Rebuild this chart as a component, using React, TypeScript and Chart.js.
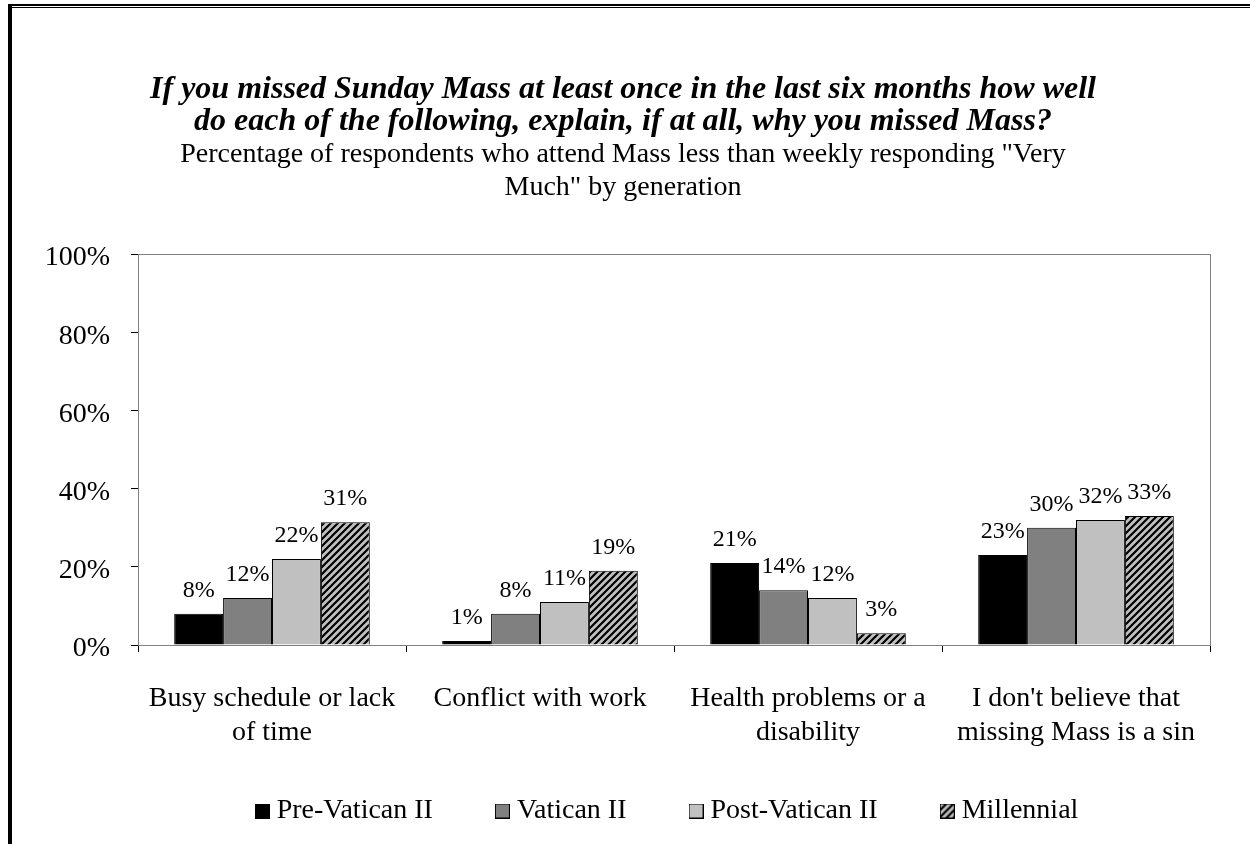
import React, { useEffect, useRef } from "react";
import { Chart, registerables } from "chart.js";
Chart.register(...registerables);

const categories = [
  ["Busy schedule or lack", "of time"],
  ["Conflict with work"],
  ["Health problems or a", "disability"],
  ["I don't believe that", "missing Mass is a sin"],
];
const seriesNames = ["Pre-Vatican II", "Vatican II", "Post-Vatican II", "Millennial"];
const preVaticanII = [8, 1, 21, 23];
const vaticanII = [12, 8, 14, 30];
const postVaticanII = [22, 11, 12, 32];
const millennial = [31.4, 19, 3, 33];
const yTickValues = [0, 20, 40, 60, 80, 100];
const titleLines = [
  "If you missed Sunday Mass at least once in the last six months how well",
  "do each of the following, explain, if at all, why you missed Mass?",
];
const subtitleLines = [
  "Percentage of respondents who attend Mass less than weekly responding \"Very",
  "Much\" by generation",
];

const FONT = "'Liberation Serif', 'Times New Roman', serif";

function makeHatch(): CanvasPattern | string {
  const c = document.createElement("canvas");
  const s = 7;
  c.width = s;
  c.height = s;
  const g = c.getContext("2d");
  if (!g) return "#c0c0c0";
  g.fillStyle = "#c0c0c0";
  g.fillRect(0, 0, s, s);
  g.strokeStyle = "#000";
  g.lineWidth = 2.2;
  g.beginPath();
  g.moveTo(-1, s + 1);
  g.lineTo(s + 1, -1);
  g.moveTo(-1, 1);
  g.lineTo(1, -1);
  g.moveTo(s - 1, s + 1);
  g.lineTo(s + 1, s - 1);
  g.stroke();
  const p = g.createPattern(c, "repeat");
  return p || "#c0c0c0";
}

function makeSwatch(fill: any): HTMLCanvasElement {
  const c = document.createElement("canvas");
  c.width = 15;
  c.height = 15;
  const g = c.getContext("2d");
  if (g) {
    g.fillStyle = fill;
    g.fillRect(0, 0, 15, 15);
    g.strokeStyle = "#000";
    g.lineWidth = 1;
    g.strokeRect(0.5, 0.5, 14, 14);
  }
  return c;
}

export default function App() {
  const ref = useRef<HTMLCanvasElement | null>(null);
  useEffect(() => {
    if (!ref.current) return;
    const hatch = makeHatch();
    const seriesValues = [preVaticanII, vaticanII, postVaticanII, millennial];
    const fills: any[] = ["#000000", "#808080", "#c0c0c0", hatch];
    const swatches = fills.map((f) => makeSwatch(f));

    const dataLabels = {
      id: "dataLabels",
      afterDatasetsDraw(chart: any) {
        const ctx = chart.ctx;
        ctx.save();
        ctx.font = `24px ${FONT}`;
        ctx.fillStyle = "#000";
        ctx.textAlign = "center";
        ctx.textBaseline = "alphabetic";
        chart.data.datasets.forEach((ds: any, i: number) => {
          const meta = chart.getDatasetMeta(i);
          meta.data.forEach((el: any, j: number) => {
            ctx.fillText(Math.round(ds.data[j]) + "%", el.x, el.y - 17);
          });
        });
        ctx.restore();
      },
    };
    const plotBox = {
      id: "plotBox",
      beforeDatasetsDraw(chart: any) {
        const a = chart.chartArea;
        const ctx = chart.ctx;
        ctx.save();
        ctx.strokeStyle = "#808080";
        ctx.lineWidth = 1;
        ctx.strokeRect(Math.round(a.left) + 0.5, Math.round(a.top) + 0.5, Math.round(a.right - a.left), Math.round(a.bottom - a.top));
        ctx.restore();
      },
    };
    const legendPlace = {
      id: "legendPlace",
      afterLayout(chart: any) {
        const lg = chart.legend;
        if (!lg) return;
        const dx = 670 - (lg.left + lg.right) / 2;
        lg.left += dx;
        lg.right += dx;
        const h = lg.bottom - lg.top;
        lg.top = 728;
        lg.bottom = 728 + h;
      },
    };

    const defaultGen = (Chart as any).defaults.plugins.legend.labels.generateLabels;

    const chart = new Chart(ref.current, {
      type: "bar",
      data: {
        labels: categories as any,
        datasets: seriesNames.map((name, i) => ({
          label: name,
          data: seriesValues[i],
          backgroundColor: fills[i],
          borderColor: "#000",
          borderWidth: 1,
          barPercentage: 1,
          categoryPercentage: 0.73,
        })),
      },
      options: {
        responsive: false,
        animation: false,
        devicePixelRatio: 1,
        layout: { padding: { left: 36, right: 40, top: 0, bottom: -13 } },
        plugins: {
          title: {
            display: true,
            text: titleLines,
            color: "#000",
            font: { family: FONT, size: 32, style: "italic", weight: "bold", lineHeight: 1 },
            padding: { top: 74, bottom: 0 },
          },
          subtitle: {
            display: true,
            text: subtitleLines,
            color: "#000",
            font: { family: FONT, size: 28, lineHeight: 33 / 28 },
            padding: { top: 0, bottom: 50 },
          },
          legend: {
            display: true,
            position: "bottom",
            labels: {
              color: "#000",
              font: { family: FONT, size: 28 },
              usePointStyle: true,
              pointStyleWidth: 1,
              boxWidth: 1,
              boxHeight: 15,
              padding: 69,
              generateLabels(chart: any) {
                const items = defaultGen(chart);
                return items.map((it: any, i: number) => ({ ...it, pointStyle: swatches[i] }));
              },
            },
          },
          tooltip: { enabled: false },
        },
        scales: {
          x: {
            offset: true,
            grid: { display: true, offset: true, drawOnChartArea: false, drawTicks: true, tickLength: 7, color: "#000" },
            border: { display: true, color: "#000" },
            ticks: { color: "#000", font: { family: FONT, size: 28, lineHeight: 34 / 28 }, padding: 30, maxRotation: 0, autoSkip: false },
            afterFit(scale: any) {
              scale.height = 105;
            },
          },
          y: {
            min: 0,
            max: 100,
            afterBuildTicks(scale: any) {
              scale.ticks = yTickValues.map((v) => ({ value: v }));
            },
            grid: { display: true, drawOnChartArea: false, drawTicks: true, tickLength: 7, color: "#000" },
            border: { display: true, color: "#000" },
            ticks: {
              color: "#000",
              font: { family: FONT, size: 28 },
              padding: 21,
              labelOffset: 4,
              callback: (v: any) => v + "%",
            },
            afterFit(scale: any) {
              scale.width = 102;
            },
          },
        },
      } as any,
      plugins: [dataLabels, plotBox, legendPlace],
    });
    return () => chart.destroy();
  }, []);

  return (
    <div style={{ position: "fixed", left: 0, top: 0, width: 1250, height: 844, background: "#fff", overflow: "hidden" }}>
      <canvas ref={ref} width={1250} height={844} style={{ position: "absolute", left: 0, top: 0, width: 1250, height: 844 }} />
      <div style={{ position: "absolute", left: 8, top: 4, right: 0, height: 2, background: "#000" }} />
      <div style={{ position: "absolute", left: 12, top: 7, right: 0, height: 1, background: "#000" }} />
      <div style={{ position: "absolute", left: 8, top: 4, width: 4, bottom: 0, background: "#000" }} />
    </div>
  );
}
